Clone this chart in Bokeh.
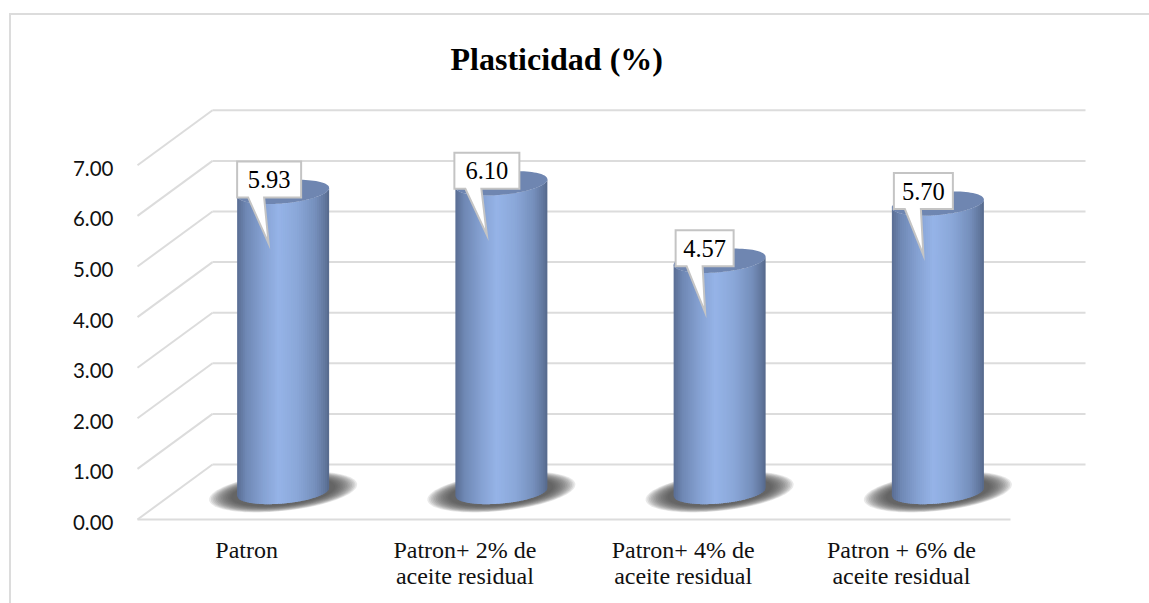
import numpy as np
from bokeh.core.properties import value
from bokeh.embed import file_html
from bokeh.models import FixedTicker, LinearAxis, PrintfTickFormatter, Range1d
from bokeh.plotting import figure
from bokeh.resources import INLINE

# Chart data
categories = ["Patron", "Patron+ 2% de\naceite residual", "Patron+ 4% de\naceite residual", "Patron + 6% de\naceite residual"]
plasticity = [5.93, 6.10, 4.57, 5.70]
value_labels = ["5.93", "6.10", "4.57", "5.70"]
value_ticks = [0, 1, 2, 3, 4, 5, 6, 7]

# Scale of the projection: pixels per category slot and per unit of value
PX_X, PX_Y = 218.25, 50.6
W, H = 1149, 603
FRAME_L, FRAME_R, FRAME_T, FRAME_B = 135, 1092, 100, 522
GRID = "#dcdcdc"

# Oblique depth of the floor, in pixels
DEPTH_X, DEPTH_Y = 75, 55

# Callout box extents around each column centre, in pixels
box_left = [-46, -47, -44, -44]
box_right = [18, 18, 14, 15]


def gx(px):
    return px / PX_X


def gy(px):
    return px / PX_Y


y_start, y_end = -(FRAME_B - 519) / PX_Y, (519 - FRAME_T) / PX_Y
p = figure(
    width=W, height=H, output_backend="svg", toolbar_location=None,
    x_range=Range1d(-(137 - FRAME_L) / PX_X, (FRAME_R - 137) / PX_X),
    y_range=Range1d(y_start, y_end),
    y_axis_location=None,
    min_border_left=FRAME_L, min_border_right=W - FRAME_R,
    min_border_top=FRAME_T, min_border_bottom=H - FRAME_B,
)
p.outline_line_color = None
p.grid.visible = False
p.background_fill_color = None
p.border_fill_color = None

# Chart-area border: only the top and left edges fall on the page
rule = f"linear-gradient({GRID},{GRID})"
p.styles = {
    "background-color": "white",
    "background-image": f"{rule},{rule}",
    "background-size": "100% 2px,2px 100%",
    "background-position": "9px 13px,9px 13px",
    "background-repeat": "no-repeat",
}

# Title
p.title.text = "Plasticidad (%)"
p.title.text_font = "Liberation Serif"
p.title.text_font_style = "bold"
p.title.text_font_size = "32px"
p.title.text_color = "black"
p.title.align = "left"
p.title.offset = 450 - FRAME_L
p.title.standoff = 47

# Value axis sits on its own range so its labels hang just below the gridlines
p.extra_y_ranges = {"tick_labels": Range1d(y_start + gy(3), y_end + gy(3))}
yaxis = LinearAxis(y_range_name="tick_labels")
yaxis.ticker = FixedTicker(ticks=value_ticks)
yaxis.formatter = PrintfTickFormatter(format="%.2f")
yaxis.axis_line_color = None
yaxis.major_tick_line_color = None
yaxis.minor_tick_line_color = None
yaxis.major_label_standoff = 16
yaxis.major_label_text_font = "Lato"
yaxis.major_label_text_font_size = "20.5px"
yaxis.major_label_text_color = "#111111"
p.add_layout(yaxis, "left")

xaxis = p.xaxis[0]
n = len(categories)
xaxis.ticker = FixedTicker(ticks=[i + 0.5 for i in range(n)])
xaxis.major_label_overrides = {i + 0.5: c for i, c in enumerate(categories)}
xaxis.axis_line_color = None
xaxis.major_tick_line_color = None
xaxis.minor_tick_line_color = None
xaxis.major_label_standoff = 8
xaxis.major_label_text_font = "Liberation Serif"
xaxis.major_label_text_font_size = "24px"
xaxis.major_label_text_color = "#111111"
xaxis.major_label_text_line_height = 1.0
xaxis.major_label_orientation = "horizontal"

# Back wall, side wall and floor edge
xmax = n
for t in value_ticks:
    p.line([gx(DEPTH_X), xmax + gx(DEPTH_X)], [t + gy(DEPTH_Y)] * 2, line_color=GRID, line_width=2)
    p.line([0, gx(DEPTH_X)], [t, t + gy(DEPTH_Y)], line_color=GRID, line_width=2)
p.line([0, xmax], [0, 0], line_color=GRID, line_width=2)

# Cylinder geometry, in pixels
RX, RY, TILT = 46, 11.5, 4
stops_u = [-1.0, -0.8, -0.45, -0.1, 0.3, 0.7, 0.92, 1.0]
stops_rgb = [
    (0x5a, 0x6e, 0x94), (0x70, 0x89, 0xb5), (0x85, 0xa1, 0xd2), (0x96, 0xb4, 0xe8),
    (0x8b, 0xa8, 0xd9), (0x76, 0x90, 0xbd), (0x61, 0x76, 0x9c), (0x56, 0x69, 0x8b),
]


def ramp(u):
    r, g, b = (np.interp(u, stops_u, [s[k] for s in stops_rgb]) for k in range(3))
    return "#%02x%02x%02x" % (int(r), int(g), int(b))


def tilted_ellipse(cx, cy, rx, ry, tilt):
    t = np.linspace(0, 2 * np.pi, 90)
    return cx + gx(rx) * np.cos(t), cy + gy(ry) * np.sin(t) + gy(tilt) * np.cos(t)


def front(u, lvl):
    return lvl + gy(TILT) * u - gy(RY) * np.sqrt(max(1 - u * u, 0))


base_y = gy(DEPTH_Y / 2)
for i, v in enumerate(plasticity):
    cx = i + 0.5 + gx(DEPTH_X / 2 - 1)

    # Soft floor shadow built from stacked translucent ellipses
    layers = 14
    for k in range(layers):
        f = 1 - 0.3 * k / (layers - 1)
        ex, ey = tilted_ellipse(cx, base_y, 74 * f, 19 * f, 7.5 * f)
        p.patch(ex, ey, fill_color="#4a4a4a", fill_alpha=0.12, line_color=None)

    # Shaded column body: narrow overlapping vertical strips between the two front arcs
    edges = np.linspace(-1, 1, 47)
    xs, ys, colors = [], [], []
    for a, b in zip(edges[:-1], edges[1:]):
        b2 = min(b + 0.03, 1)
        lo, hi = base_y, base_y + v
        us = np.linspace(a, b2, 4)
        xs.append(list(cx + gx(RX) * us) + list(cx + gx(RX) * us[::-1]))
        ys.append([front(u, lo) for u in us] + [front(u, hi) for u in us[::-1]])
        colors.append(ramp((a + b) / 2))
    p.patches(xs, ys, fill_color=colors, line_color=None)

    # Top face
    ex, ey = tilted_ellipse(cx, base_y + v, RX, RY, TILT)
    p.patch(ex, ey, fill_color="#6f86b1", line_color=None)

    # Callout carrying the value
    top = base_y + v
    l, r = gx(box_left[i]), gx(box_right[i])
    y_hi, y_lo = top + gy(30.5), top - gy(5.5)
    cxs = [cx + l, cx + r, cx + r, cx + l + gx(27), cx - gx(14.5), cx + l + gx(11), cx + l]
    cys = [y_hi, y_hi, y_lo, y_lo, top - gy(51.5), y_lo, y_lo]
    p.patch(cxs, cys, fill_color="white", line_color="#c4c4c4", line_width=2, line_join="miter")
    p.text([cx + (l + r) / 2], [top + gy(12.5)], text=[value_labels[i]],
           text_font=value("Liberation Serif"), text_font_size="24.5px", text_color="black",
           text_align="center", text_baseline="middle")

open("out.html", "w").write(file_html(p, INLINE))
